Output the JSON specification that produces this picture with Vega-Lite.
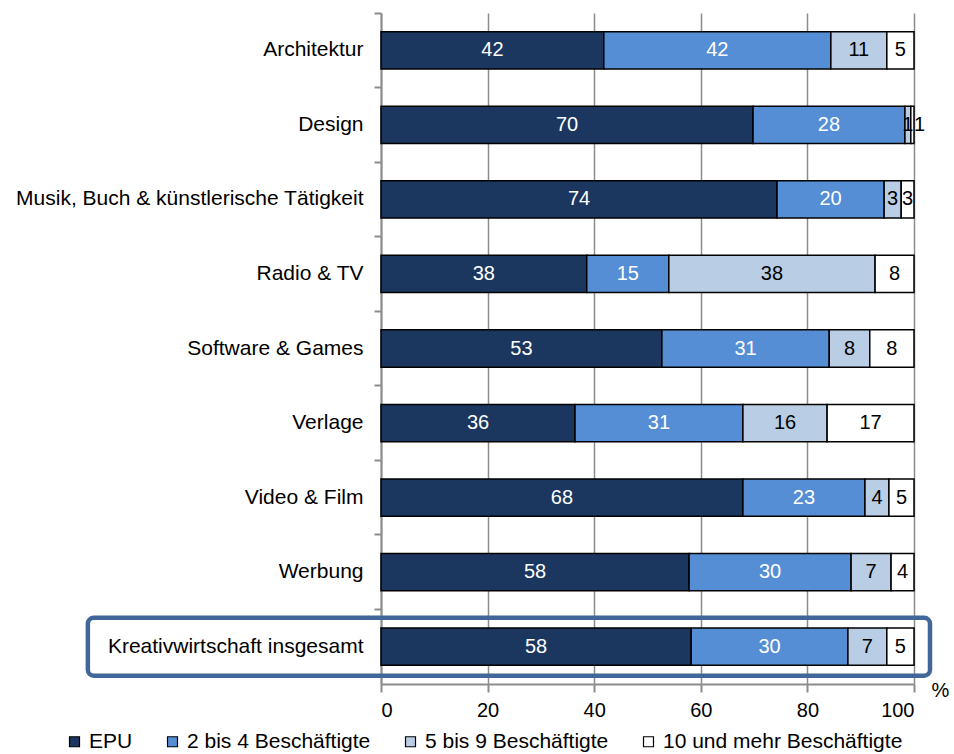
{
  "$schema": "https://vega.github.io/schema/vega-lite/v6.json",
  "autosize": {"type": "none"},
  "padding": {"left": 381, "top": 13, "right": 40, "bottom": 70},
  "width": 533,
  "height": 671,
  "background": "white",
  "config": {
    "font": "Liberation Sans",
    "view": {"stroke": null},
    "axis": {"labelFont": "Liberation Sans", "titleFont": "Liberation Sans"},
    "legend": {"labelFont": "Liberation Sans"}
  },
  "datasets": {
    "bars": [
      {"cat": "Architektur", "group": "EPU", "o": 1, "v": 41.8, "lab": "42"},
      {"cat": "Architektur", "group": "2 bis 4 Beschäftigte", "o": 2, "v": 42.6, "lab": "42"},
      {"cat": "Architektur", "group": "5 bis 9 Beschäftigte", "o": 3, "v": 10.5, "lab": "11"},
      {"cat": "Architektur", "group": "10 und mehr Beschäftigte", "o": 4, "v": 5.1, "lab": "5"},
      {"cat": "Design", "group": "EPU", "o": 1, "v": 69.8, "lab": "70"},
      {"cat": "Design", "group": "2 bis 4 Beschäftigte", "o": 2, "v": 28.5, "lab": "28"},
      {"cat": "Design", "group": "5 bis 9 Beschäftigte", "o": 3, "v": 1.1, "lab": "1"},
      {"cat": "Design", "group": "10 und mehr Beschäftigte", "o": 4, "v": 0.6, "lab": "1"},
      {"cat": "Musik, Buch & künstlerische Tätigkeit", "group": "EPU", "o": 1, "v": 74.3, "lab": "74"},
      {"cat": "Musik, Buch & künstlerische Tätigkeit", "group": "2 bis 4 Beschäftigte", "o": 2, "v": 20.1, "lab": "20"},
      {"cat": "Musik, Buch & künstlerische Tätigkeit", "group": "5 bis 9 Beschäftigte", "o": 3, "v": 3.2, "lab": "3"},
      {"cat": "Musik, Buch & künstlerische Tätigkeit", "group": "10 und mehr Beschäftigte", "o": 4, "v": 2.4, "lab": "3"},
      {"cat": "Radio & TV", "group": "EPU", "o": 1, "v": 38.6, "lab": "38"},
      {"cat": "Radio & TV", "group": "2 bis 4 Beschäftigte", "o": 2, "v": 15.4, "lab": "15"},
      {"cat": "Radio & TV", "group": "5 bis 9 Beschäftigte", "o": 3, "v": 38.7, "lab": "38"},
      {"cat": "Radio & TV", "group": "10 und mehr Beschäftigte", "o": 4, "v": 7.3, "lab": "8"},
      {"cat": "Software & Games", "group": "EPU", "o": 1, "v": 52.7, "lab": "53"},
      {"cat": "Software & Games", "group": "2 bis 4 Beschäftigte", "o": 2, "v": 31.4, "lab": "31"},
      {"cat": "Software & Games", "group": "5 bis 9 Beschäftigte", "o": 3, "v": 7.6, "lab": "8"},
      {"cat": "Software & Games", "group": "10 und mehr Beschäftigte", "o": 4, "v": 8.3, "lab": "8"},
      {"cat": "Verlage", "group": "EPU", "o": 1, "v": 36.4, "lab": "36"},
      {"cat": "Verlage", "group": "2 bis 4 Beschäftigte", "o": 2, "v": 31.5, "lab": "31"},
      {"cat": "Verlage", "group": "5 bis 9 Beschäftigte", "o": 3, "v": 15.8, "lab": "16"},
      {"cat": "Verlage", "group": "10 und mehr Beschäftigte", "o": 4, "v": 16.3, "lab": "17"},
      {"cat": "Video & Film", "group": "EPU", "o": 1, "v": 67.9, "lab": "68"},
      {"cat": "Video & Film", "group": "2 bis 4 Beschäftigte", "o": 2, "v": 22.9, "lab": "23"},
      {"cat": "Video & Film", "group": "5 bis 9 Beschäftigte", "o": 3, "v": 4.5, "lab": "4"},
      {"cat": "Video & Film", "group": "10 und mehr Beschäftigte", "o": 4, "v": 4.7, "lab": "5"},
      {"cat": "Werbung", "group": "EPU", "o": 1, "v": 57.8, "lab": "58"},
      {"cat": "Werbung", "group": "2 bis 4 Beschäftigte", "o": 2, "v": 30.4, "lab": "30"},
      {"cat": "Werbung", "group": "5 bis 9 Beschäftigte", "o": 3, "v": 7.5, "lab": "7"},
      {"cat": "Werbung", "group": "10 und mehr Beschäftigte", "o": 4, "v": 4.3, "lab": "4"},
      {"cat": "Kreativwirtschaft insgesamt", "group": "EPU", "o": 1, "v": 58.2, "lab": "58"},
      {"cat": "Kreativwirtschaft insgesamt", "group": "2 bis 4 Beschäftigte", "o": 2, "v": 29.4, "lab": "30"},
      {"cat": "Kreativwirtschaft insgesamt", "group": "5 bis 9 Beschäftigte", "o": 3, "v": 7.3, "lab": "7"},
      {"cat": "Kreativwirtschaft insgesamt", "group": "10 und mehr Beschäftigte", "o": 4, "v": 5.1, "lab": "5"}
    ],
    "box": [
      {"cat": "Kreativwirtschaft insgesamt", "from": -55, "to": 103}
    ]
  },
  "encoding": {
    "y": {
      "field": "cat",
      "type": "nominal",
      "sort": ["Architektur", "Design", "Musik, Buch & künstlerische Tätigkeit", "Radio & TV", "Software & Games", "Verlage", "Video & Film", "Werbung", "Kreativwirtschaft insgesamt"],
      "scale": {"paddingInner": 0, "paddingOuter": 0},
      "axis": {
        "title": null,
        "bandPosition": 0,
        "domainColor": "#8c8c8c",
        "domainWidth": 2,
        "tickColor": "#8c8c8c",
        "tickWidth": 2,
        "tickSize": 7,
        "labelPadding": 11,
        "labelFontSize": 21,
        "labelColor": "black",
        "labelLimit": 400,
        "grid": false
      }
    }
  },
  "layer": [
    {
      "data": {"name": "bars"},
      "mark": {"type": "bar", "height": {"band": 0.5}, "stroke": "black", "strokeWidth": 1.5},
      "encoding": {
        "x": {
          "field": "v",
          "type": "quantitative",
          "stack": "zero",
          "scale": {"domain": [0, 100], "nice": false},
          "axis": {
            "values": [0, 20, 40, 60, 80, 100],
            "title": "%",
            "titleX": 559,
            "titleY": -4,
            "titleAlign": "center",
            "titleAnchor": null,
            "titleFontSize": 20,
            "titleFontWeight": "normal",
            "titleColor": "black",
            "grid": true,
            "gridColor": "#8c8c8c",
            "gridWidth": 1.5,
            "domainColor": "#8c8c8c",
            "domainWidth": 2,
            "tickColor": "#8c8c8c",
            "tickWidth": 2,
            "tickSize": 8,
            "labelPadding": 8,
            "labelFontSize": 20,
            "labelColor": "black"
          }
        },
        "color": {
          "field": "group",
          "type": "nominal",
          "scale": {
            "domain": ["EPU", "2 bis 4 Beschäftigte", "5 bis 9 Beschäftigte", "10 und mehr Beschäftigte"],
            "range": ["#1B375F", "#558ED5", "#B9CDE5", "#FFFFFF"]
          },
          "legend": {
            "title": null,
            "orient": "none",
            "direction": "horizontal",
            "legendX": -317,
            "legendY": 718,
            "symbolType": "square",
            "symbolSize": 100,
            "symbolStrokeColor": "black",
            "symbolStrokeWidth": 1.2,
            "symbolOpacity": 1,
            "labelFontSize": 21,
            "labelColor": "black",
            "labelOffset": 4,
            "columnPadding": 29,
            "labelLimit": 400
          }
        },
        "order": {"field": "o", "type": "quantitative"}
      }
    },
    {
      "data": {"name": "bars"},
      "transform": [{"filter": "!(datum.cat == 'Design' && datum.o == 4)"}],
      "mark": {"type": "text", "fontSize": 20, "align": "center", "baseline": "middle"},
      "encoding": {
        "x": {"field": "v", "type": "quantitative", "stack": "zero", "bandPosition": 0.5},
        "detail": {"field": "group"},
        "order": {"field": "o", "type": "quantitative"},
        "text": {"field": "lab"},
        "color": {
          "condition": {"test": "datum.o <= 2", "value": "white"},
          "value": "black"
        }
      }
    },
    {
      "data": {"name": "bars"},
      "transform": [{"filter": "datum.cat == 'Design' && datum.o == 4"}],
      "mark": {"type": "text", "fontSize": 20, "align": "left", "baseline": "middle", "dx": 0, "color": "black"},
      "encoding": {
        "x": {"datum": 100},
        "text": {"field": "lab"}
      }
    },
    {
      "data": {"name": "box"},
      "mark": {"type": "bar", "height": 58, "fill": null, "fillOpacity": 0, "stroke": "#41679A", "strokeWidth": 4.5, "cornerRadius": 6, "clip": false},
      "encoding": {
        "x": {"field": "from", "type": "quantitative"},
        "x2": {"field": "to"}
      }
    }
  ]
}
